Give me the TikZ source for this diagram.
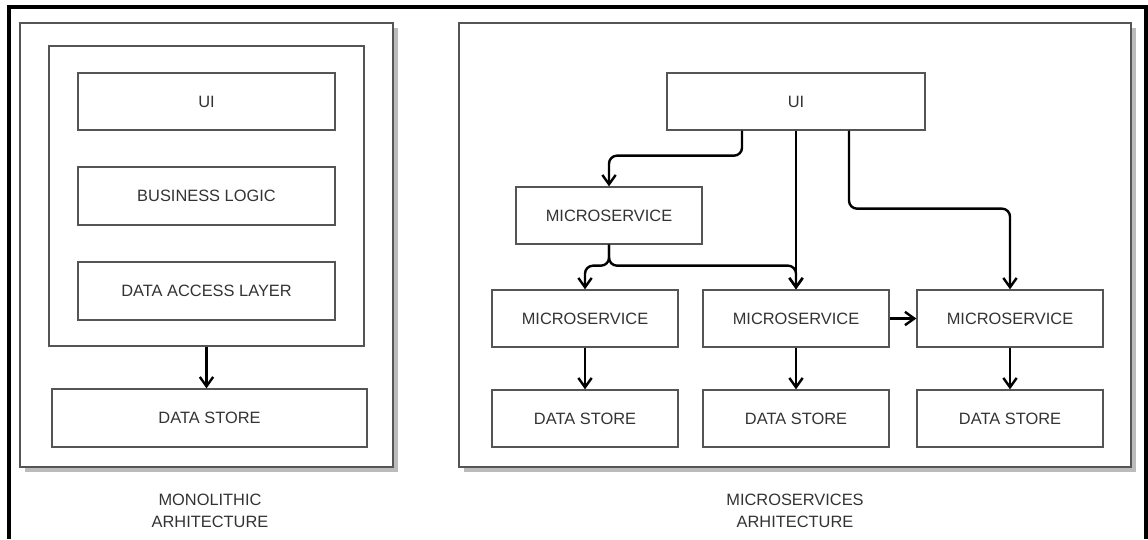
\documentclass[tikz,border=0pt]{standalone}
\usepackage{fontspec}
\setmainfont{Liberation Sans}
\usetikzlibrary{arrows.meta,calc,shadows}
\definecolor{boxline}{HTML}{555555}
\definecolor{boxtext}{HTML}{333333}
\definecolor{shade}{HTML}{BBBBBB}
\begin{document}
\begin{tikzpicture}[x=0.75pt, y=-0.75pt,
    box/.style={draw=boxline, line width=1pt, fill=white, inner sep=0pt, text=boxtext,
        font=\fontsize{12.3}{14}\selectfont},
    panel/.style={box, drop shadow={shadow xshift=3.75pt, shadow yshift=-3.75pt, fill=shade, opacity=1}},
    link/.style={line width=1.8pt, rounded corners=6pt, -{Straight Barb[length=7pt,width=10pt,line width=1.8pt]}},
    caption/.style={align=center, text=boxtext, font=\fontsize{12.3}{16.5}\selectfont}]
    \useasboundingbox (0,0) rectangle (1148,539);
    \draw[line width=2.4pt] (9,539) -- (9,7) -- (1146,7) -- (1146,539);

    \node[panel, minimum width=279.75pt, minimum height=333pt] (mono) at (206.5,245) {};
    \node[box, minimum width=236.25pt, minimum height=225pt] (core) at (206.5,196) {};
    \node[box, minimum width=192.75pt, minimum height=42.75pt] (ui1) at (206.5,101.5) {UI};
    \node[box, minimum width=192.75pt, minimum height=43.5pt] (logic) at (206.5,196) {BUSINESS LOGIC};
    \node[box, minimum width=192.75pt, minimum height=43.5pt] (dal) at (206.5,291) {DATA ACCESS LAYER};
    \node[box, minimum width=236.25pt, minimum height=43.5pt] (dsm) at (209.5,418) {DATA STORE};
    \draw[link] (core.south) -- (core.south |- dsm.north);
    \node[caption] (capm) at (210,511) {MONOLITHIC\\ARHITECTURE};

    \node[panel, minimum width=504pt, minimum height=333pt] (micro) at (795,245) {};
    \node[box, minimum width=193.5pt, minimum height=42.75pt] (ui2) at (796,101.5) {UI};
    \node[box, minimum width=139.5pt, minimum height=42.75pt] (ms0) at (609,215.5) {MICROSERVICE};
    \node[box, minimum width=139.5pt, minimum height=42.75pt] (ms1) at (585,318.5) {MICROSERVICE};
    \node[box, minimum width=139.5pt, minimum height=42.75pt] (ms2) at (796,318.5) {MICROSERVICE};
    \node[box, minimum width=139.5pt, minimum height=42.75pt] (ms3) at (1010,318.5) {MICROSERVICE};
    \node[box, minimum width=139.5pt, minimum height=42.75pt] (ds1) at (585,418.5) {DATA STORE};
    \node[box, minimum width=139.5pt, minimum height=42.75pt] (ds2) at (796,418.5) {DATA STORE};
    \node[box, minimum width=139.5pt, minimum height=42.75pt] (ds3) at (1010,418.5) {DATA STORE};
    \draw[link] ($(ui2.south)+(-54,0)$) -- ++(0,25) -| (ms0.north);
    \draw[link] (ui2.south) -- (ms2.north);
    \draw[link] ($(ui2.south)+(53,0)$) -- ++(0,78) -| (ms3.north);
    \draw[link] (ms0.south) -- ++(0,21) -| (ms1.north);
    \draw[link] (ms0.south) -- ++(0,21) -| (ms2.north);
    \draw[link] (ms2.east) -- (ms3.west);
    \draw[link] (ms1.south) -- (ds1.north);
    \draw[link] (ms2.south) -- (ds2.north);
    \draw[link] (ms3.south) -- (ds3.north);
    \node[caption] (capr) at (795,511) {MICROSERVICES\\ARHITECTURE};
\end{tikzpicture}
\end{document}
